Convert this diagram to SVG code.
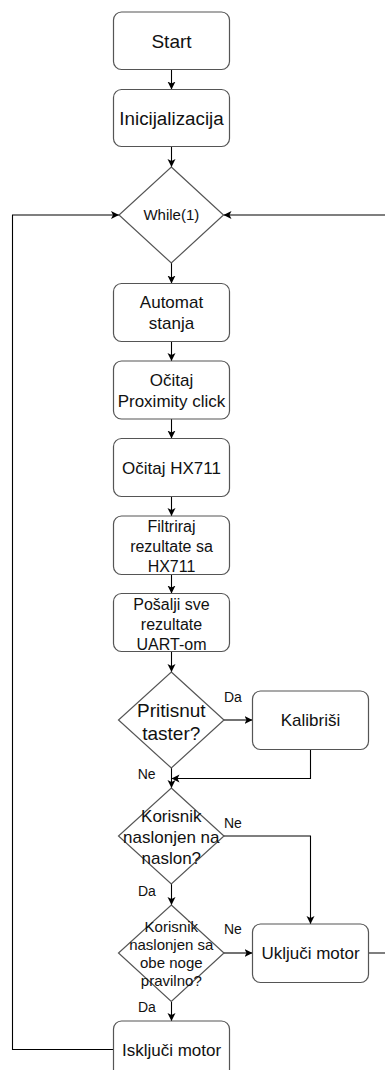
<svg xmlns="http://www.w3.org/2000/svg" width="385" height="1070" viewBox="0 0 385 1070">
<defs>
<style>
.box{fill:#fff;stroke:#555;stroke-width:1.2}
.dia{fill:#fff;stroke:#555;stroke-width:1.2}
.t{font-family:"Liberation Sans",Arial,sans-serif;fill:#111;text-anchor:middle}
.lbl{font-family:"Liberation Sans",Arial,sans-serif;fill:#111;font-size:14px}
.c{fill:none;stroke:#000;stroke-width:1.1}
</style>
<marker id="ah" markerUnits="userSpaceOnUse" markerWidth="10" markerHeight="10" refX="8" refY="4" orient="auto">
<path d="M0,0 L8,4 L0,8 L2,4 z" fill="#000"/>
</marker>
</defs>
<rect width="385" height="1070" fill="#fff"/>
<g id="connectors">
<path class="c" d="M171.5,69.5 V89.5" marker-end="url(#ah)"/>
<path class="c" d="M171.5,146.5 V167" marker-end="url(#ah)"/>
<path class="c" d="M171.5,263 V283.5" marker-end="url(#ah)"/>
<path class="c" d="M171.5,341.5 V361" marker-end="url(#ah)"/>
<path class="c" d="M171.5,419 V438.5" marker-end="url(#ah)"/>
<path class="c" d="M171.5,496.5 V516" marker-end="url(#ah)"/>
<path class="c" d="M171.5,574.5 V593.5" marker-end="url(#ah)"/>
<path class="c" d="M171.5,651.5 V672" marker-end="url(#ah)"/>
<path class="c" d="M224,720 H252.5" marker-end="url(#ah)"/>
<path class="c" d="M171.5,768 V788" marker-end="url(#ah)"/>
<path class="c" d="M310.5,749.5 V778.5 H171.5" marker-end="url(#ah)"/>
<path class="c" d="M224,836 H310.5 V924" marker-end="url(#ah)"/>
<path class="c" d="M171.5,884 V905" marker-end="url(#ah)"/>
<path class="c" d="M224,953 H252.5" marker-end="url(#ah)"/>
<path class="c" d="M171.5,1002 V1021" marker-end="url(#ah)"/>
<path class="c" d="M113.5,1049.5 H12.5 V215 H119" marker-end="url(#ah)"/>
<path class="c" d="M368.5,953 H392 V215 H223.5" marker-end="url(#ah)"/>
</g>
<g id="start"><rect class="box" x="113.5" y="12" width="116" height="57.5" rx="8"/><text class="t" x="171.5" y="48" font-size="19">Start</text></g>
<g id="init"><rect class="box" x="113.5" y="89.5" width="116" height="57" rx="8"/><text class="t" x="171.5" y="125" font-size="18.8">Inicijalizacija</text></g>
<g id="while"><path class="dia" d="M171.3,167 L223.5,215 L171.3,263 L119,215 Z"/><text class="t" x="171.3" y="220.4" font-size="15">While(1)</text></g>
<g id="automat"><rect class="box" x="113.5" y="283.5" width="116" height="58" rx="8"/><text class="t" font-size="17"><tspan x="171.5" y="308.3">Automat</tspan><tspan x="171.5" y="329.3">stanja</tspan></text></g>
<g id="proximity"><rect class="box" x="113.5" y="361" width="116" height="58" rx="8"/><text class="t" font-size="17"><tspan x="171.5" y="385.8">Očitaj</tspan><tspan x="171.5" y="406.8">Proximity click</tspan></text></g>
<g id="hx711"><rect class="box" x="113.5" y="438.5" width="116" height="58" rx="8"/><text class="t" x="171.5" y="473.6" font-size="17">Očitaj HX711</text></g>
<g id="filtriraj"><rect class="box" x="113.5" y="516" width="116" height="58.5" rx="8"/><text class="t" font-size="16"><tspan x="171.5" y="532.3">Filtriraj</tspan><tspan x="171.5" y="552">rezultate sa</tspan><tspan x="171.5" y="571.5">HX711</tspan></text></g>
<g id="uart"><rect class="box" x="113.5" y="593.5" width="116" height="58" rx="8"/><text class="t" font-size="16"><tspan x="171.5" y="609.6">Pošalji sve</tspan><tspan x="171.5" y="629.6">rezultate</tspan><tspan x="171.5" y="649.6">UART-om</tspan></text></g>
<g id="taster"><path class="dia" d="M171.3,672 L224,720 L171.3,768 L118.5,720 Z"/><text class="t" font-size="19"><tspan x="171.3" y="716.7">Pritisnut</tspan><tspan x="171.3" y="740">taster?</tspan></text></g>
<g id="kalibrisi"><rect class="box" x="252.5" y="691" width="116" height="58.5" rx="8"/><text class="t" x="310.5" y="726.2" font-size="17">Kalibriši</text></g>
<g id="naslon"><path class="dia" d="M171.3,788 L224,836 L171.3,884 L118.5,836 Z"/><text class="t" font-size="17"><tspan x="171.3" y="822">Korisnik</tspan><tspan x="171.3" y="843">naslonjen na</tspan><tspan x="171.3" y="864">naslon?</tspan></text></g>
<g id="noge"><path class="dia" d="M171.3,905 L224,953 L171.3,1001.5 L118.5,953 Z"/><text class="t" font-size="15"><tspan x="171.3" y="931.5">Korisnik</tspan><tspan x="171.3" y="949.5">naslonjen sa</tspan><tspan x="171.3" y="967.5">obe noge</tspan><tspan x="171.3" y="985.5">pravilno?</tspan></text></g>
<g id="ukljuci"><rect class="box" x="252.5" y="924" width="116" height="58.5" rx="8"/><text class="t" x="310.5" y="959.2" font-size="17">Uključi motor</text></g>
<g id="iskljuci"><rect class="box" x="113.5" y="1021" width="116" height="58" rx="8"/><text class="t" x="171.5" y="1056" font-size="17">Isključi motor</text></g>
<g id="labels">
<text class="lbl" x="224" y="701.7">Da</text>
<text class="lbl" x="137.7" y="779.3">Ne</text>
<text class="lbl" x="224" y="828.3">Ne</text>
<text class="lbl" x="138" y="896">Da</text>
<text class="lbl" x="224" y="934.3">Ne</text>
<text class="lbl" x="138" y="1012.3">Da</text>
</g>
</svg>
